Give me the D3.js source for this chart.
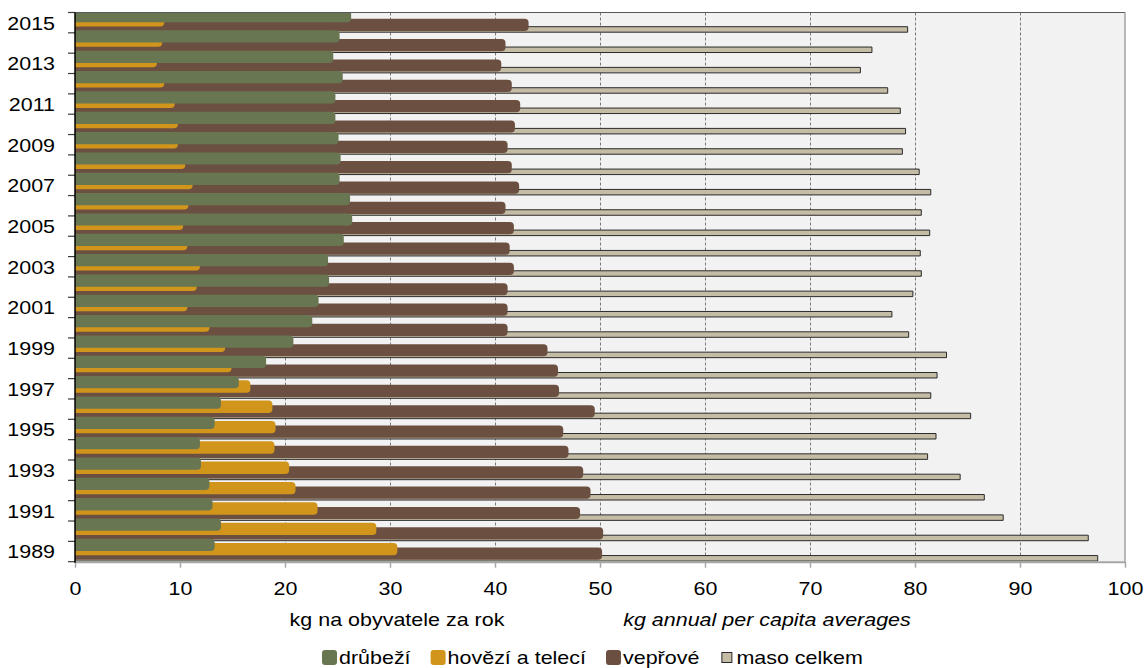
<!DOCTYPE html>
<html><head><meta charset="utf-8">
<script src="https://cdn.jsdelivr.net/npm/d3@7/dist/d3.min.js"></script>
<style>
body{margin:0;background:#fff}
text{font-family:"Liberation Sans",Arial,sans-serif;fill:#000}
</style>
</head><body>
<svg id="c" width="1144" height="668"></svg>
<script>
// ---- data (1989 -> 2015) ----
const years   = [1989,1990,1991,1992,1993,1994,1995,1996,1997,1998,1999,2000,2001,2002,2003,2004,2005,2006,2007,2008,2009,2010,2011,2012,2013,2014,2015];
const poultry = [13.3,13.9,13.1,12.8,12.0,11.9,13.3,13.9,15.6,18.2,20.8,22.6,23.2,24.2,24.1,25.6,26.4,26.2,25.2,25.3,25.1,24.8,24.8,25.5,24.6,25.2,26.3];
const beef    = [30.7,28.7,23.1,21.0,20.4,19.0,19.1,18.8,16.7,14.9,14.3,12.8,10.7,11.6,11.9,10.7,10.3,10.8,11.2,10.5,9.8,9.8,9.5,8.5,7.8,8.3,8.5];
const pork    = [50.2,50.3,48.1,49.1,48.4,47.0,46.5,49.5,46.1,46.0,45.0,41.2,41.2,41.2,41.8,41.4,41.8,41.0,42.3,41.6,41.2,41.9,42.4,41.6,40.6,41.0,43.2];
const total   = [97.4,96.5,88.4,86.6,84.3,81.2,82.0,85.3,81.5,82.1,83.0,79.4,77.8,79.8,80.6,80.5,81.4,80.6,81.5,80.4,78.8,79.1,78.6,77.4,74.8,75.9,79.3];
const yearLabels = [1989,1991,1993,1995,1997,1999,2001,2003,2005,2007,2009,2011,2013,2015];
const xTicks = [0,10,20,30,40,50,60,70,80,90,100];
const seriesNames = ["drůbeží","hovězí a telecí","vepřové","maso celkem"];
const titleCz = "kg na obyvatele za rok";
const titleEn = "kg annual per capita averages";

// ---- layout ----
const L=75, R=1125, T=12.5, B=561.7;
const FS=19, SX=1.13;
const svg=d3.select("#c");
const x=d3.scaleLinear().domain([0,100]).range([L,R]);
const y=d3.scaleBand().domain(years.slice().reverse()).range([T,B]).padding(0);
const bw=y.bandwidth();

const colors={poultry:"#687752",beef:"#d0951a",pork:"#6b5041",total:"#c5bca6"};

svg.append("defs").append("clipPath").attr("id","plot")
  .append("rect").attr("x",L).attr("y",T).attr("width",R-L).attr("height",B-T);

svg.append("rect").attr("x",L).attr("y",T).attr("width",R-L).attr("height",B-T).attr("fill","#f2f2f2");

// gridlines
svg.append("g").selectAll("line").data(xTicks.filter(d=>d>0&&d<100)).join("line")
  .attr("x1",d=>x(d)+0.5).attr("x2",d=>x(d)+0.5).attr("y1",T).attr("y2",B)
  .attr("stroke","#7a7a7a").attr("stroke-dasharray","3,2").attr("stroke-width",1);

function rr(x0,y0,w,h,r){
  r=Math.max(0,Math.min(r,w,h/2));
  return `M${x0},${y0}H${x0+w-r}A${r},${r} 0 0 1 ${x0+w},${y0+r}V${y0+h-r}A${r},${r} 0 0 1 ${x0+w-r},${y0+h}H${x0}Z`;
}

const g=svg.append("g").attr("clip-path","url(#plot)");
const series=[
  {vals:total,  color:colors.total,  off:0.698, h:0.27,  r:0},
  {vals:pork,   color:colors.pork,   off:0.305, h:0.60,  r:4},
  {vals:beef,   color:colors.beef,   off:0.079, h:0.61,  r:4},
  {vals:poultry,color:colors.poultry,off:-0.123,h:0.60,  r:4}
];
series.forEach((s,si)=>{
  const sel=g.append("g").selectAll("path").data(years.map((yr,i)=>({yr,v:s.vals[i]}))).join("path")
    .attr("d",d=>rr(x(0),y(d.yr)+s.off*bw,x(d.v)-x(0),s.h*bw,s.r))
    .attr("fill",s.color);
  if(si===0){sel.attr("stroke","#2a2a2a").attr("stroke-width",1);}
});

// borders
svg.append("line").attr("x1",L).attr("x2",R).attr("y1",T).attr("y2",T).attr("stroke","#595959").attr("stroke-width",1.2);
svg.append("line").attr("x1",R).attr("x2",R).attr("y1",T).attr("y2",B).attr("stroke","#8c8c8c").attr("stroke-width",1.2);

// x axis
const xa=svg.append("g").attr("transform",`translate(0,${B})`)
  .call(d3.axisBottom(x).tickValues(xTicks).tickSize(6).tickSizeOuter(0));
xa.select(".domain").attr("stroke","#a6a6a6").attr("stroke-width",2);
xa.selectAll(".tick line").attr("stroke","#a6a6a6").attr("stroke-width",1.5);
xa.selectAll(".tick text").attr("y",33.3).attr("dy",0).attr("font-size",FS)
  .attr("font-family","Liberation Sans, Arial, sans-serif").attr("fill","#000")
  .attr("transform",`scale(${SX},1)`);

// y axis
const ya=svg.append("g").attr("transform",`translate(${L},0)`)
  .call(d3.axisLeft(y).tickValues(yearLabels).tickSize(0).tickPadding(17.7).tickSizeOuter(0));
ya.select(".domain").remove();
ya.selectAll(".tick text").attr("dy","0.36em").attr("font-size",FS)
  .attr("font-family","Liberation Sans, Arial, sans-serif").attr("fill","#000")
  .attr("transform",`scale(${SX},1)`);
// y tick marks at band boundaries
const bounds=years.map(yr=>y(yr)).concat([B]);
svg.append("g").selectAll("line").data(bounds).join("line")
  .attr("x1",L-7).attr("x2",L).attr("y1",d=>d).attr("y2",d=>d)
  .attr("stroke","#3a3a3a").attr("stroke-width",1.2);
svg.append("line").attr("x1",L).attr("x2",L).attr("y1",T).attr("y2",B+1).attr("stroke","#000").attr("stroke-width",1.5);

// axis titles
function stext(cx,by,str,opts={}){
  const t=svg.append("text").attr("font-size",FS).attr("text-anchor",opts.anchor||"middle")
    .attr("transform",`translate(${cx},${by}) scale(${SX},1)`).text(str);
  if(opts.italic) t.attr("font-style","italic");
  return t;
}
stext(397,626,titleCz);
stext(767,626,titleEn,{italic:true});

// legend
const legColors=[colors.poultry,colors.beef,colors.pork,colors.total];
let lx=322;
seriesNames.forEach((nm,i)=>{
  if(i<3){
    svg.append("rect").attr("x",lx).attr("y",650).attr("width",15).attr("height",15).attr("rx",3).attr("fill",legColors[i]);
  } else {
    svg.append("rect").attr("x",lx+2.5).attr("y",652.5).attr("width",10).attr("height",10).attr("fill",legColors[i]).attr("stroke","#2a2a2a").attr("stroke-width",1);
  }
  const t=stext(lx+17,664,nm,{anchor:"start"});
  lx+=17+t.node().getComputedTextLength()*SX+20;
});
</script>
</body></html>
